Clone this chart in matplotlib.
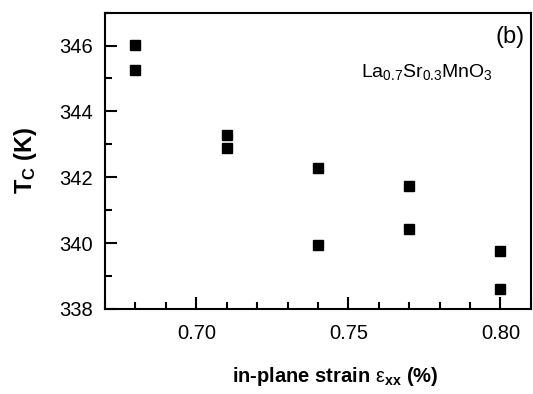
"""Curie temperature vs in-plane strain for La0.7Sr0.3MnO3 films."""

import matplotlib
matplotlib.use("Agg")
import matplotlib.pyplot as plt
from matplotlib.ticker import MultipleLocator

# data
strain = [0.68, 0.68, 0.71, 0.71, 0.74, 0.74, 0.77, 0.77, 0.80, 0.80]
tc = [346.02, 345.27, 343.27, 342.88, 342.29, 339.94, 341.72, 340.43, 339.76, 338.61]

xticks = [0.70, 0.75, 0.80]
yticks = [338, 340, 342, 344, 346]

plt.rcParams["font.family"] = ["Liberation Sans", "DejaVu Sans"]
plt.rcParams["mathtext.fontset"] = "custom"
plt.rcParams["mathtext.rm"] = "Liberation Sans"
plt.rcParams["mathtext.it"] = "Liberation Sans:italic"
plt.rcParams["mathtext.bf"] = "Liberation Sans:bold"

fig = plt.figure(figsize=(5.33, 3.94), dpi=100)
ax = fig.add_axes([0.197, 0.216, 0.799, 0.752])

ax.plot(strain, tc, "s", color="black", markersize=7.8, linestyle="none")

ax.set_xlim(0.67, 0.81)
ax.set_ylim(338, 347)
ax.set_xticks(xticks)
ax.set_yticks(yticks)
ax.set_xticklabels([f"{t:.2f}" for t in xticks])
ax.xaxis.set_minor_locator(MultipleLocator(0.01))
ax.yaxis.set_minor_locator(MultipleLocator(1))

ax.tick_params(which="both", direction="in", width=1.5, labelsize=14.5,
               top=False, right=False)
ax.tick_params(which="major", length=8.5)
ax.tick_params(axis="x", which="major", pad=11)
ax.tick_params(axis="y", which="major", pad=9)
ax.tick_params(which="minor", length=5)
for s in ax.spines.values():
    s.set_linewidth(1.5)

ax.set_xlabel(r"in-plane strain $\mathrm{\varepsilon}_{\mathbf{xx}}$ (%)",
              fontsize=14.5, fontweight="bold")
ax.xaxis.set_label_coords(0.54, -0.19)
ax.set_ylabel(r"T$_\mathbf{C}$ (K)", fontsize=17, fontweight="bold", labelpad=14)

ax.text(0.985, 0.955, "(b)", transform=ax.transAxes, ha="right", va="top",
        fontsize=17)
ax.text(0.756, 0.80, r"La$_{0.7}$Sr$_{0.3}$MnO$_3$", transform=ax.transAxes,
        ha="center", va="center", fontsize=14)

fig.savefig("out.png", dpi=100)
